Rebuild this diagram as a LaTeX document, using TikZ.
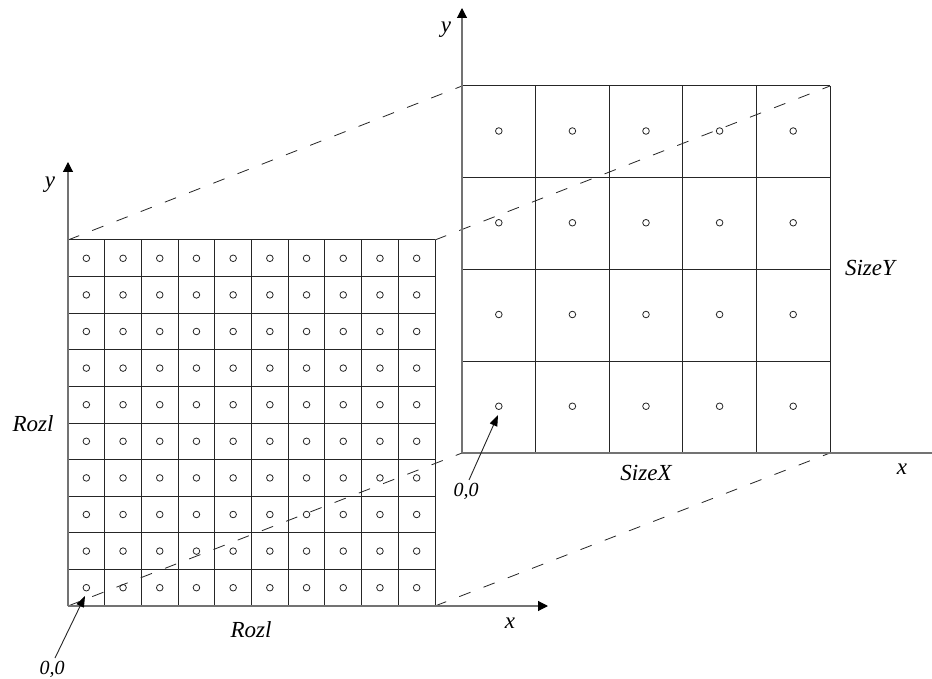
\documentclass[tikz,border=0pt]{standalone}
\usepackage{fontspec}
\setmainfont{Liberation Serif}
\usetikzlibrary{arrows.meta}
\begin{document}
\begin{tikzpicture}[x=1pt,y=-1pt,
  gridline/.style={draw=black!85, line width=1pt},
  axisline/.style={draw=black!55, line width=1.1pt,
    -{Triangle[length=10pt,width=10pt,color=black]}},
  proj/.style={draw=black!85, line width=0.8pt, dash pattern=on 12pt off 14pt},
  dot/.style={draw=black!85, line width=0.8pt},
  lbl/.style={font=\fontsize{23}{27}\selectfont\itshape, inner sep=0pt},
  origin/.style={font=\fontsize{20}{24}\selectfont\itshape, inner sep=0pt},
  pointer/.style={draw=black!85, line width=0.9pt,
    -{Triangle[length=11pt,width=8pt,color=black]}}]
\clip (0,0) rectangle (932,679);
\fill[white] (0,0) rectangle (932,679);

% corners of the fine (left) grid
\coordinate (LTL) at (68,240);
\coordinate (LTR) at (435,240);
\coordinate (LBL) at (68,606);
\coordinate (LBR) at (435,606);
% corners of the coarse (right) grid
\coordinate (RTL) at (462,86);
\coordinate (RTR) at (830,86);
\coordinate (RBL) at (462,453);
\coordinate (RBR) at (830,453);

% fine grid: 10 x 10 cells with a centre mark in each
\foreach \i in {0,...,10} {
  \draw[gridline] (68+\i*36.7,240) -- (68+\i*36.7,606);
  \draw[gridline] (68,240+\i*36.6) -- (435,240+\i*36.6);
}
\foreach \i in {0,...,9}
  \foreach \j in {0,...,9}
    \draw[dot] (86.35+\i*36.7,258.3+\j*36.6) circle (3.3pt);

% coarse grid: 5 x 4 cells
\foreach \i in {0,...,5}
  \draw[gridline] (462+\i*73.6,86) -- (462+\i*73.6,453);
\foreach \j in {0,...,4}
  \draw[gridline] (462,86+\j*91.75) -- (830,86+\j*91.75);
\foreach \i in {0,...,4}
  \foreach \j in {0,...,3}
    \draw[dot] (498.8+\i*73.6,131+\j*91.75) circle (3.3pt);

% projection lines between the two grids
\draw[proj] (LTL) -- (RTL);
\draw[proj] (LTR) -- (RTR);
\draw[proj] (LBL) -- (RBL);
\draw[proj] (LBR) -- (RBR);

% axes
\coordinate (LyEnd) at (68,162);
\coordinate (LxEnd) at (548,606);
\coordinate (RyEnd) at (462,8);
\coordinate (RxEnd) at (942,453);
\draw[axisline] (LBL) -- (LyEnd);
\draw[axisline] (LBL) -- (LxEnd);
\draw[axisline] (RBL) -- (RyEnd);
\draw[axisline] (RBL) -- (RxEnd);

% axis and size labels
\node[lbl] (ly) at (50,185) {y};
\node[lbl] (lx) at (510,623) {x};
\node[lbl] (ry) at (446,30) {y};
\node[lbl] (rx) at (902,469) {x};
\node[lbl] (rozlV) at (33,424) {Rozl};
\node[lbl] (rozlH) at (251,630) {Rozl};
\node[lbl] (sizeY) at (870,268) {SizeY};
\node[lbl] (sizeX) at (646,473) {SizeX};

% origin markers
\node[origin, anchor=north] (originL) at (52,661) {0,0};
\node[origin, anchor=north] (originR) at (466,483) {0,0};
\coordinate (dotL) at (85,596);
\coordinate (dotR) at (498,415);
\draw[pointer] ([xshift=3pt,yshift=3pt]originL.north) -- (dotL);
\draw[pointer] ([xshift=3pt,yshift=3pt]originR.north) -- (dotR);
\end{tikzpicture}
\end{document}
